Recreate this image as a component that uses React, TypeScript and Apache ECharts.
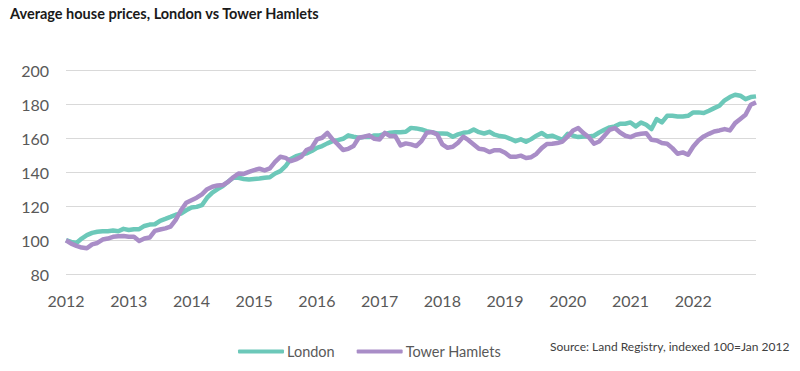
import React, { useEffect, useRef } from "react";
import * as echarts from "echarts";

const years = [2012, 2013, 2014, 2015, 2016, 2017, 2018, 2019, 2020, 2021, 2022, 2023];
const monthNames = ["Jan", "Feb", "Mar", "Apr", "May", "Jun", "Jul", "Aug", "Sep", "Oct", "Nov", "Dec"];

const london = [
  100, 99, 98.4, 101, 103, 104.3, 105, 105.3, 105.3, 105.7, 105.3, 106.7,
  106, 106.5, 106.5, 108.4, 109.2, 109.4, 111.4, 112.5, 113.7, 115, 115.7, 117.6,
  119.2, 119.6, 120.6, 125, 128, 130, 131.8, 134.3, 136.7, 136.7, 136, 135.7,
  136, 136.3, 136.7, 137, 139.2, 140.6, 143.5, 147.8, 149.4, 150.2, 151, 152.4,
  154.3, 155.3, 156.9, 158.2, 158.8, 159.6, 161.6, 160.8, 160.2, 160.6, 160.6, 161.6,
  161.6, 162.5, 163.1, 163.5, 163.5, 163.7, 166, 165.7, 165.1, 164.1, 163.5, 162.7,
  162.7, 162.5, 160.8, 162.2, 163.1, 163.5, 165.1, 163.5, 162.7, 163.7, 162, 161.2,
  160.8, 159.6, 158.2, 159.3, 157.8, 159.4, 161.4, 163, 161, 161.4, 160.2, 159,
  162.5, 161.4, 160.6, 161, 161, 161.4, 163.3, 164.9, 166.3, 166.9, 168.4, 168.4,
  169.2, 166.9, 169.2, 167.8, 165.3, 171.2, 169.2, 173.1, 173.1, 172.7, 172.7, 173.1,
  175.1, 175.1, 174.7, 176.1, 177.6, 179, 182.2, 184.1, 185.5, 184.9, 182.9, 184.1,
  184.5,
];

const towerHamlets = [
  100, 98, 96.7, 95.7, 95.3, 97.6, 98.4, 100.4, 101, 102, 102.4, 102.5,
  102, 102, 99.6, 101, 101.6, 105.5, 106.3, 107, 108, 112, 117.6, 122,
  123.5, 125, 127, 130, 131.4, 132.2, 132.4, 134.3, 137, 139.2, 139, 140.2,
  141.2, 142, 141, 142.2, 146, 149, 148.4, 146.5, 147.5, 149, 153, 154.3,
  159.2, 160.2, 163.1, 159.2, 156.3, 153, 153.7, 155.3, 160.2, 160.8, 161.6, 159.6,
  159.2, 163.1, 161.2, 161.2, 155.7, 156.9, 156.3, 155.3, 158.2, 163.1, 163.5, 162.2,
  156.3, 154.3, 154.9, 157.3, 160.8, 158.8, 156.3, 153.7, 153.3, 151.8, 152.9, 152.9,
  151.4, 149, 149, 149.7, 148.3, 148.8, 150.8, 154.1, 156.5, 156.7, 157.1, 158,
  161, 164.5, 165.9, 162.9, 160.6, 156.7, 158, 161.4, 164.9, 165.9, 163.3, 161.4,
  160.6, 162, 162.5, 162.9, 159, 158.6, 157.1, 156.7, 154.1, 150.8, 151.6, 150.2,
  155.1, 158.6, 161, 162.5, 163.9, 164.5, 165.3, 164.5, 168.8, 171.2, 173.7, 179.6,
  181,
];

const months: string[] = [];
for (const y of years) {
  for (const m of monthNames) {
    if (months.length < london.length) months.push(m + " " + y);
  }
}

const FONT = "Lato, 'Open Sans', sans-serif";

export default function App() {
  const ref = useRef<HTMLDivElement>(null);
  useEffect(() => {
    if (!ref.current) return;
    const chart = echarts.init(ref.current, undefined, { renderer: "svg" });
    chart.setOption({
      animation: false,
      backgroundColor: "#ffffff",
      textStyle: { fontFamily: FONT },
      grid: { left: 66, right: 44, top: 70, bottom: 96.7, containLabel: false },
      graphic: [
        {
          type: "text",
          left: 10,
          top: 6,
          style: {
            text: "Average house prices, London vs Tower Hamlets",
            fontFamily: FONT,
            fontSize: 14.5,
            fontWeight: "bold",
            fill: "#1a1a1a",
          },
        },
        {
          type: "text",
          left: 550,
          top: 340,
          style: {
            text: "Source: Land Registry, indexed 100=Jan 2012",
            fontFamily: FONT,
            fontSize: 12,
            fill: "#404040",
          },
        },
      ],
      legend: {
        data: ["London", "Tower Hamlets"],
        left: 233,
        top: 339,
        icon: "roundRect",
        itemWidth: 46,
        itemHeight: 4,
        itemGap: 22,
        textStyle: { fontFamily: FONT, fontSize: 14.5, color: "#595959", padding: [0, 0, 0, -2] },
      },
      xAxis: {
        type: "category",
        data: months,
        boundaryGap: false,
        axisLine: { show: false },
        axisTick: { show: false },
        splitLine: { show: false },
        axisLabel: {
          interval: (i: number) => i % 12 === 0 && i < 132,
          formatter: (v: string) => v.split(" ")[1],
          fontFamily: FONT,
          fontSize: 16,
          color: "#595959",
          margin: 18,
        },
      },
      yAxis: {
        type: "value",
        min: 80,
        max: 200,
        interval: 20,
        axisLine: { show: false },
        axisTick: { show: false },
        axisLabel: { fontFamily: FONT, fontSize: 16, color: "#595959", margin: 17 },
        splitLine: { lineStyle: { color: "#d9d9d9", width: 1 } },
      },
      series: [
        {
          name: "London",
          type: "line",
          data: london,
          showSymbol: false,
          symbol: "none",
          lineStyle: { color: "#6cc8b9", width: 4.5, join: "round" },
          itemStyle: { color: "#6cc8b9" },
        },
        {
          name: "Tower Hamlets",
          type: "line",
          data: towerHamlets,
          showSymbol: false,
          symbol: "none",
          lineStyle: { color: "#a98dc7", width: 4.5, join: "round" },
          itemStyle: { color: "#a98dc7" },
        },
      ],
    });
    return () => chart.dispose();
  }, []);
  return (
    <div
      ref={ref}
      style={{ position: "fixed", left: 0, top: 0, width: 800, height: 371 }}
    />
  );
}
